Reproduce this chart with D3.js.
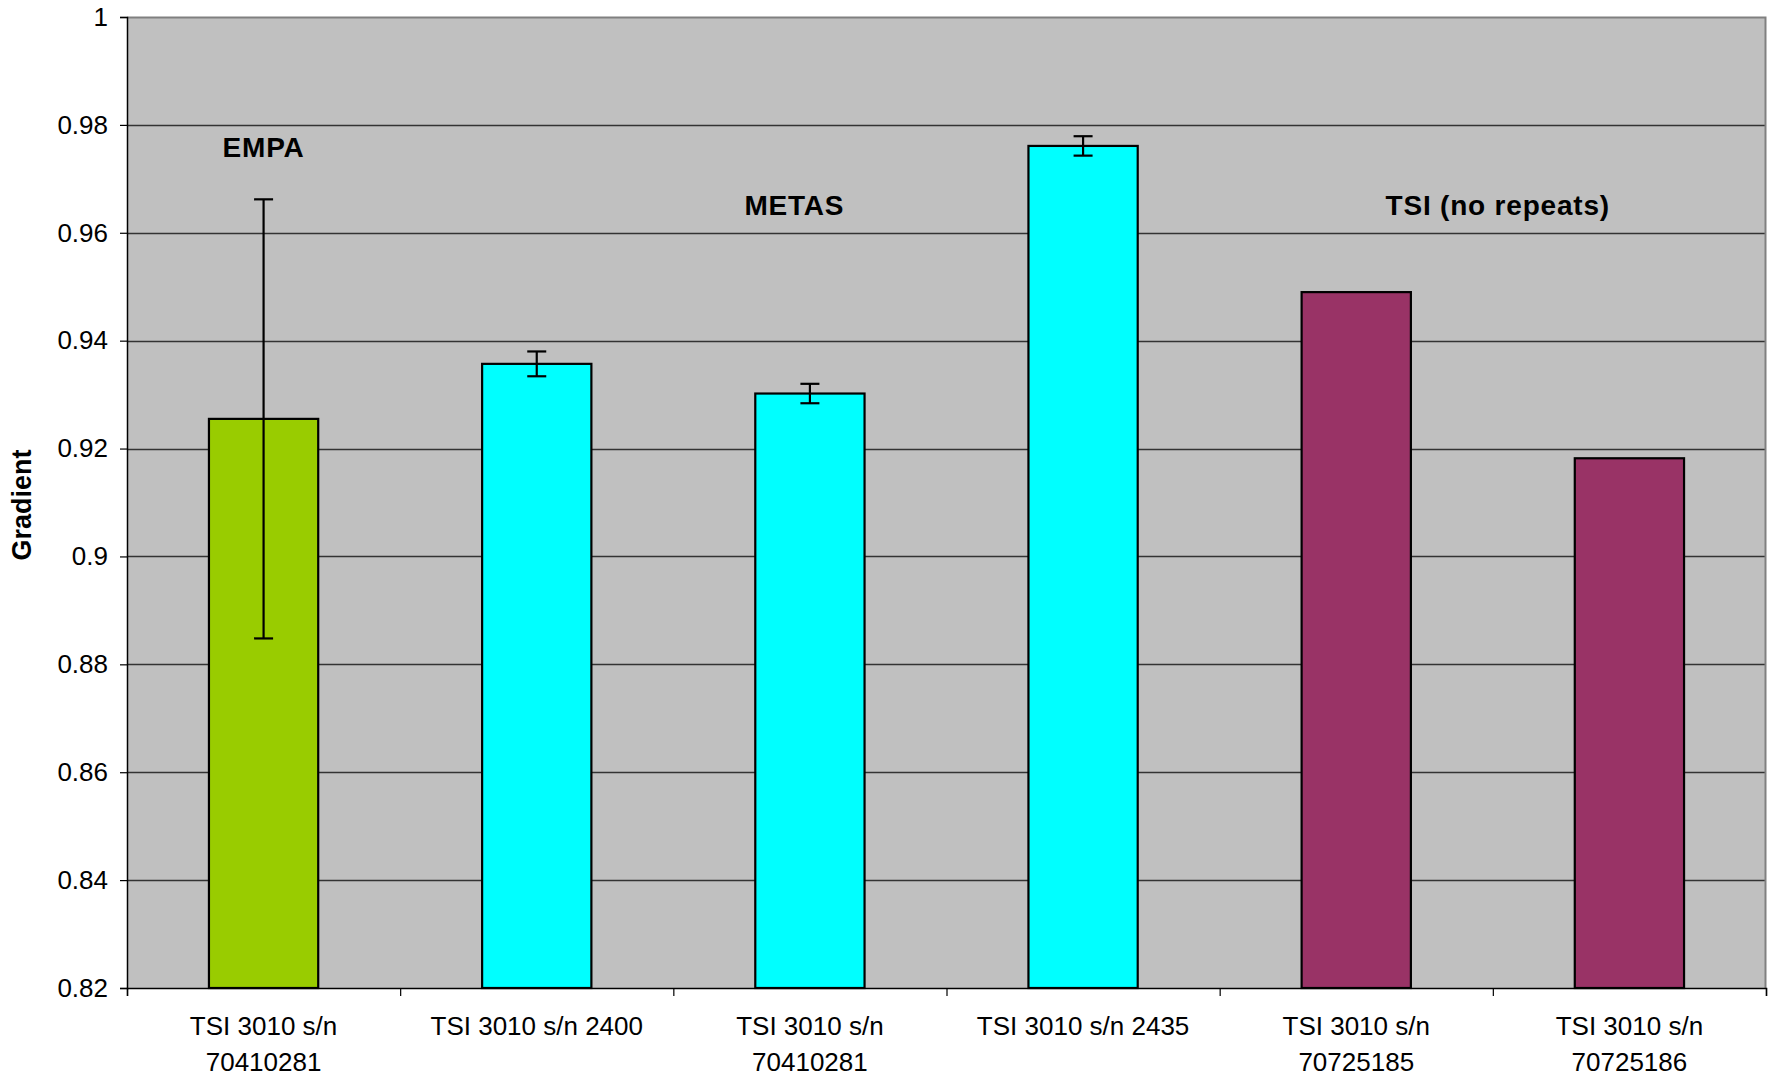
<!DOCTYPE html>
<html>
<head>
<meta charset="utf-8">
<script src="https://cdn.jsdelivr.net/npm/d3@7/dist/d3.min.js"></script>
<style>
  html, body { margin: 0; padding: 0; background: #fff; }
  svg { display: block; font-family: "Liberation Sans", Arial, sans-serif; }
</style>
</head>
<body>
<svg id="chart" width="1774" height="1077"></svg>
<script>
// ---- data ----
const categories = [
  "TSI 3010 s/n 70410281",
  "TSI 3010 s/n 2400",
  "TSI 3010 s/n 70410281",
  "TSI 3010 s/n 2435",
  "TSI 3010 s/n 70725185",
  "TSI 3010 s/n 70725186"
];
const values = [0.9255, 0.9357, 0.9302, 0.9761, 0.949, 0.9182];
const errors = [0.0407, 0.0023, 0.0018, 0.0018, null, null];
const groups = ["EMPA", "METAS", "METAS", "METAS", "TSI", "TSI"];
const groupColors = { EMPA: "#99CC00", METAS: "#00FFFF", TSI: "#993366" };
const yTicks = [0.82, 0.84, 0.86, 0.88, 0.9, 0.92, 0.94, 0.96, 0.98, 1];
const annotations = ["EMPA", "METAS", "TSI (no repeats)"];
const annotationX = [0.5, 2.443, 5.018];      // in category units
const annotationY = [0.9741, 0.9633, 0.9633]; // in data units (baseline)
const yLabel = "Gradient";

// ---- layout ----
const L = 127, R = 1766, T = 17, B = 988;
const svg = d3.select("#chart");

const x = d3.scaleBand().domain(d3.range(categories.length)).range([L, R])
  .paddingInner(0.6).paddingOuter(0.3);
const xCont = d3.scaleLinear().domain([0, categories.length]).range([L, R]);
const y = d3.scaleLinear().domain([0.82, 1]).range([B, T]);

// plot background
svg.append("rect").attr("x", L).attr("y", T).attr("width", R - L).attr("height", B - T)
  .attr("fill", "#C0C0C0");

// gridlines
svg.append("g").selectAll("line").data(yTicks.filter(d => d > 0.82 && d < 1)).join("line")
  .attr("x1", L).attr("x2", R)
  .attr("y1", d => Math.round(y(d)) + 0.5).attr("y2", d => Math.round(y(d)) + 0.5)
  .attr("stroke", "#333").attr("stroke-width", 1.3);

// plot border top / right
svg.append("path")
  .attr("d", `M${L},${T + 0.5}H${R - 0.5}V${B}`)
  .attr("fill", "none").attr("stroke", "#808080").attr("stroke-width", 2);

// bars
svg.append("g").selectAll("rect").data(values).join("rect")
  .attr("x", (d, i) => x(i))
  .attr("y", d => y(d))
  .attr("width", x.bandwidth())
  .attr("height", d => B - y(d))
  .attr("fill", (d, i) => groupColors[groups[i]])
  .attr("stroke", "#000").attr("stroke-width", 2.2);

// error bars
const eb = svg.append("g").attr("stroke", "#000").attr("stroke-width", 2.2);
values.forEach((v, i) => {
  const e = errors[i];
  if (e == null) return;
  const cx = x(i) + x.bandwidth() / 2;
  eb.append("line").attr("x1", cx).attr("x2", cx).attr("y1", y(v + e)).attr("y2", y(v - e));
  [v + e, v - e].forEach(w => {
    eb.append("line").attr("x1", cx - 9.5).attr("x2", cx + 9.5).attr("y1", y(w)).attr("y2", y(w));
  });
});

// y axis
const yAxis = d3.axisLeft(y).tickValues(yTicks).tickSize(7).tickPadding(12)
  .tickFormat(d => d3.format("")(+d.toFixed(2)));
const gy = svg.append("g").attr("transform", `translate(${L},0)`).call(yAxis);
gy.select(".domain").attr("stroke", "#000").attr("stroke-width", 1.5);
gy.selectAll(".tick line").attr("stroke", "#000").attr("stroke-width", 1.2);
gy.selectAll(".tick text").attr("font-size", 26).attr("fill", "#000")
  .attr("font-family", "Liberation Sans, Arial, sans-serif");

// x axis
const xAxis = d3.axisBottom(xCont).tickValues(d3.range(categories.length + 1)).tickSize(8).tickFormat("");
const gx = svg.append("g").attr("transform", `translate(0,${B})`).call(xAxis);
gx.select(".domain").attr("stroke", "#000").attr("stroke-width", 1.5);
gx.selectAll(".tick line").attr("stroke", "#000").attr("stroke-width", 1.2);

// x category labels (wrapped)
const xl = svg.append("g").attr("font-size", 26).attr("fill", "#000").attr("text-anchor", "middle");
categories.forEach((c, i) => {
  const cx = x(i) + x.bandwidth() / 2;
  const t = xl.append("text").attr("x", cx).attr("y", 1035).text(c);
  if (t.node().getComputedTextLength() > 240) {
    const words = c.split(" ");
    const last = words.pop();
    t.text(null);
    t.append("tspan").attr("x", cx).attr("y", 1035).text(words.join(" "));
    t.append("tspan").attr("x", cx).attr("y", 1071).text(last);
  }
});

// annotations
svg.append("g").selectAll("text").data(annotations).join("text")
  .attr("x", (d, i) => xCont(annotationX[i]))
  .attr("y", (d, i) => y(annotationY[i]))
  .attr("text-anchor", "middle").attr("font-weight", "bold").attr("font-size", 28)
  .attr("letter-spacing", 0.8)
  .attr("fill", "#000").text(d => d);

// y label
svg.append("text")
  .attr("transform", `translate(31,505) rotate(-90)`)
  .attr("text-anchor", "middle").attr("font-weight", "bold").attr("font-size", 27)
  .attr("fill", "#000").text(yLabel);
</script>
</body>
</html>
